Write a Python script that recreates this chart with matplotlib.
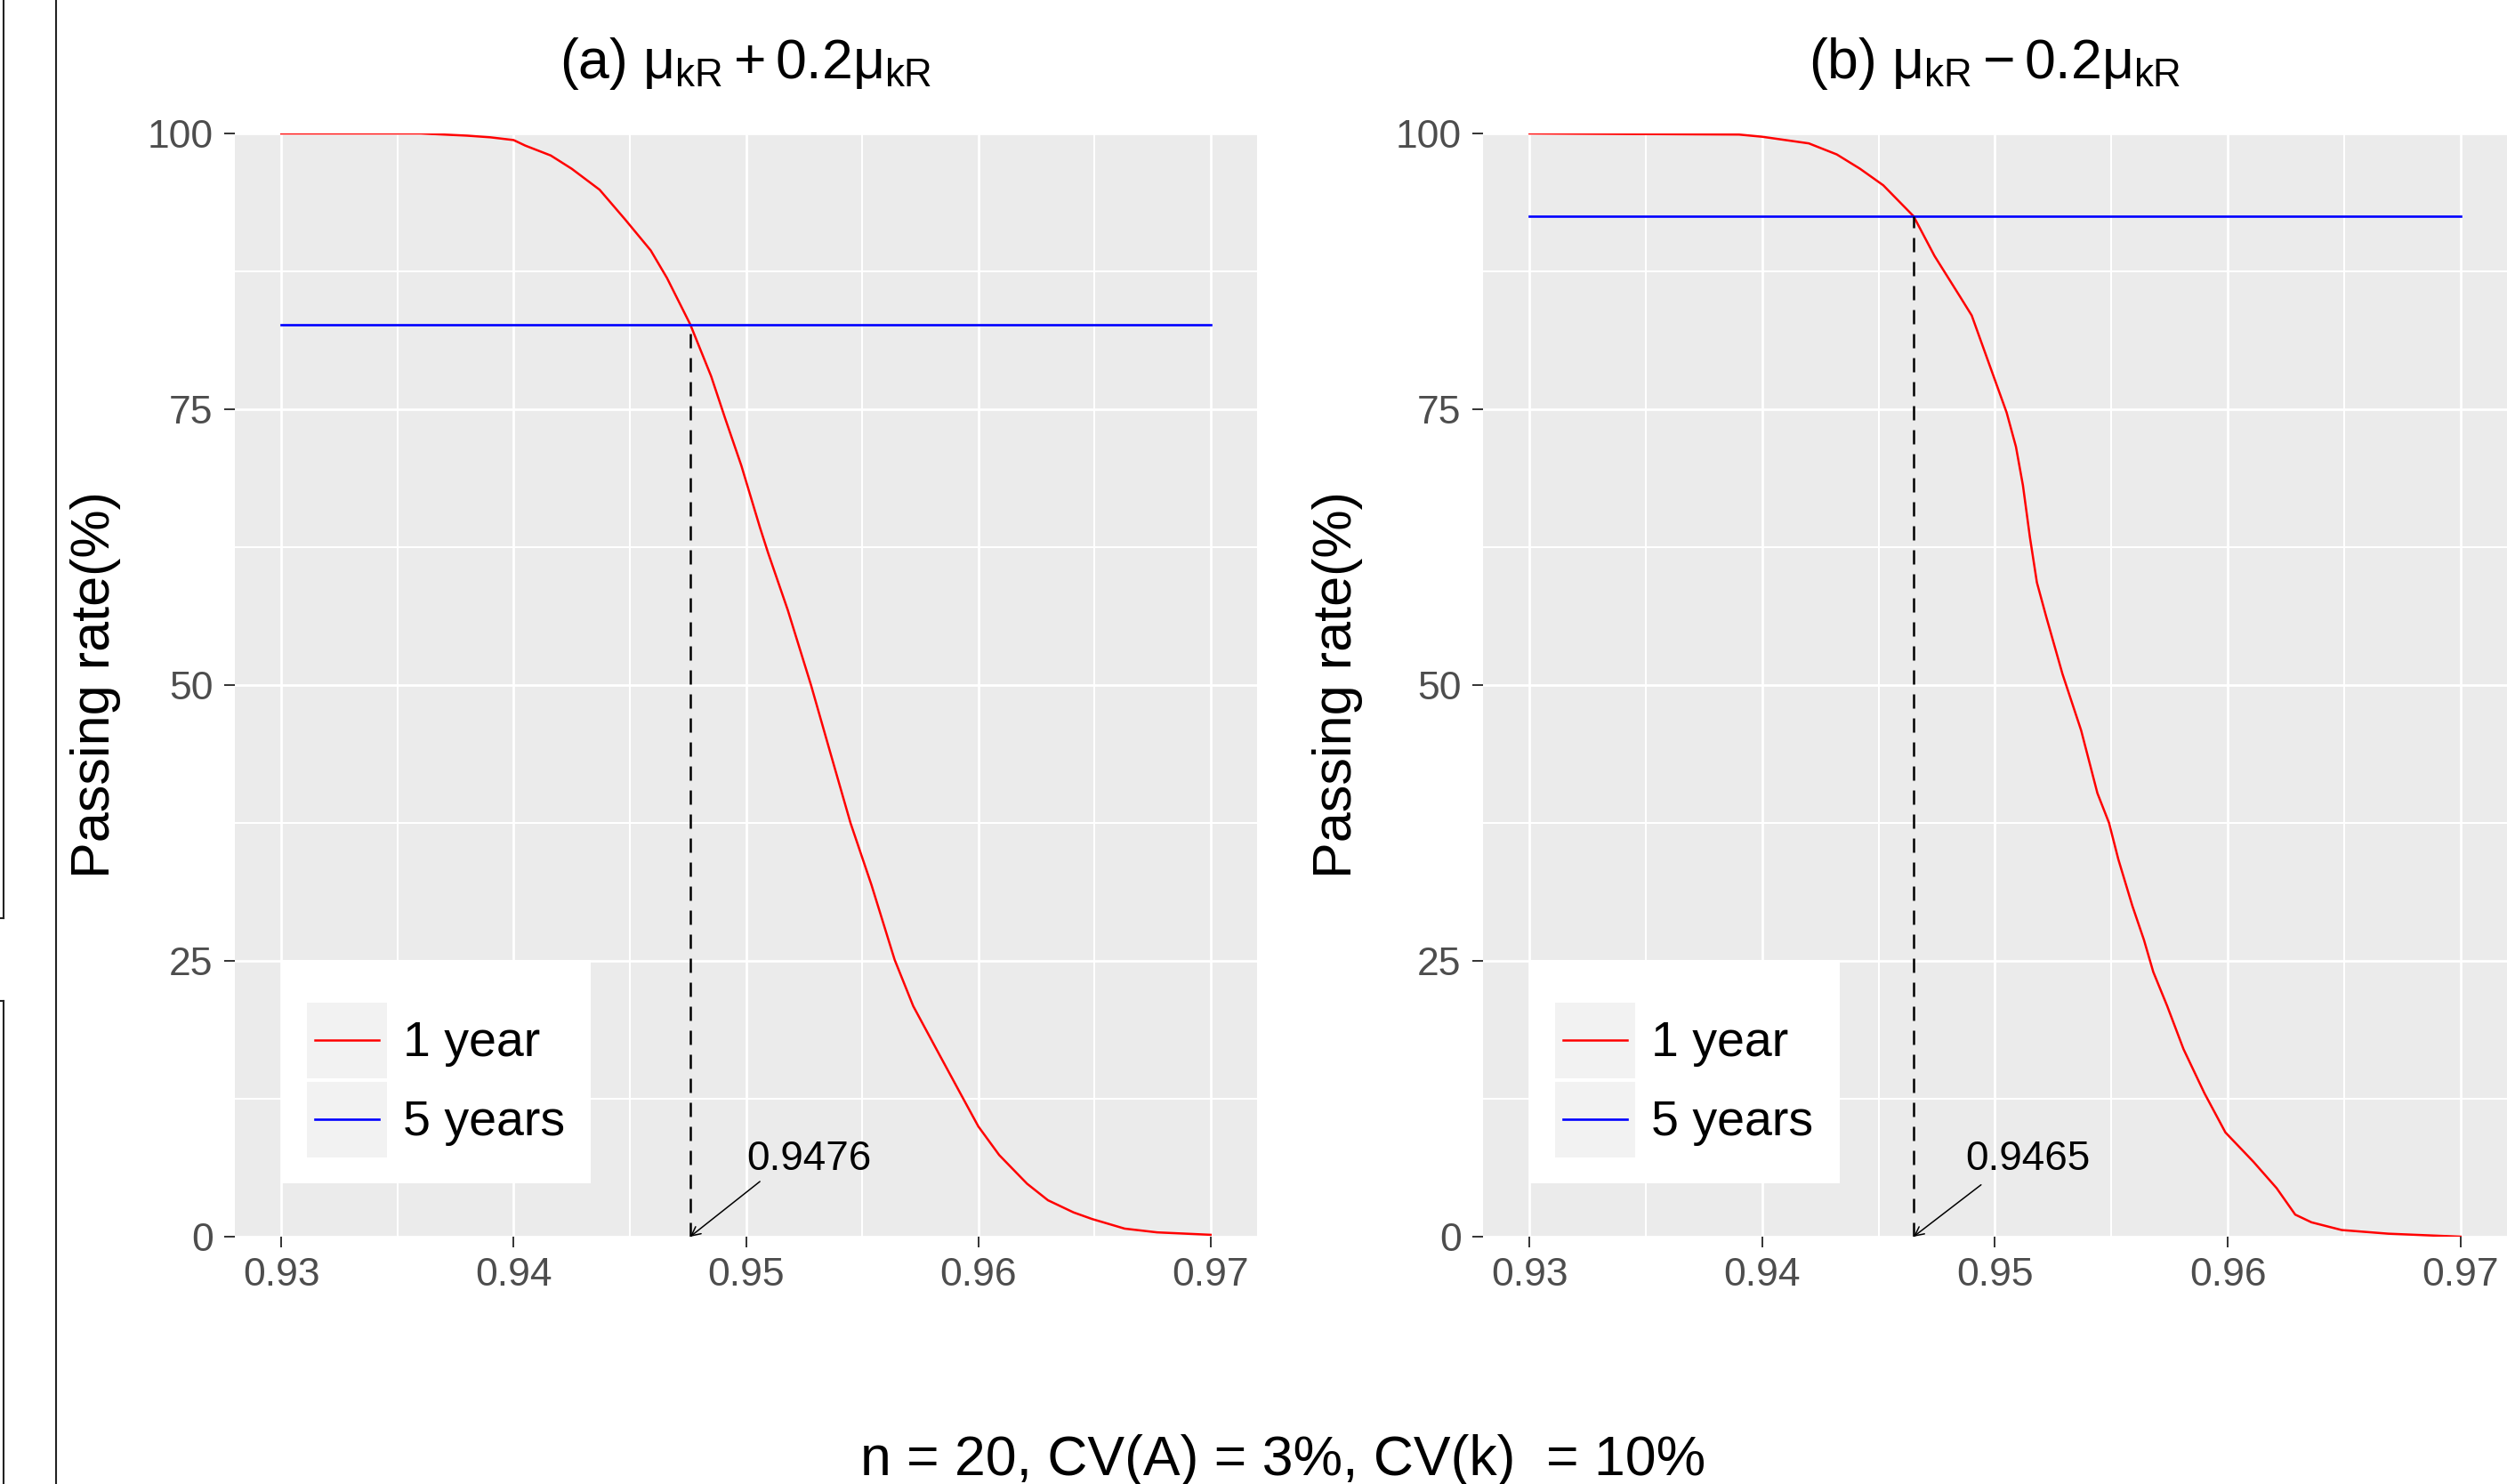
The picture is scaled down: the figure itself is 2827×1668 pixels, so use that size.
import matplotlib
matplotlib.use("Agg")
import matplotlib.pyplot as plt
from matplotlib.legend_handler import HandlerLine2D
from matplotlib.lines import Line2D
from matplotlib.patches import Rectangle
from matplotlib.ticker import MultipleLocator

plt.rcParams["font.family"] = ["Liberation Sans", "DejaVu Sans"]
plt.rcParams["mathtext.fontset"] = "custom"
plt.rcParams["mathtext.rm"] = "Liberation Sans"
plt.rcParams["mathtext.it"] = "Liberation Sans"
plt.rcParams["mathtext.bf"] = "Liberation Sans:bold"

# ---- data ----
TITLES = [r"(a) $\mu_{\mathrm{kR}}+0.2\mu_{\mathrm{kR}}$",
          r"(b) $\mu_{\mathrm{kR}}-0.2\mu_{\mathrm{kR}}$"]
SERIES = ["1 year", "5 years"]

X_A = [0.930, 0.936, 0.938, 0.939, 0.940, 0.9405, 0.9416, 0.9425, 0.9437,
       0.9448, 0.9459, 0.9466, 0.9476, 0.9485, 0.9491, 0.9498, 0.9506,
       0.95095, 0.9518, 0.9528, 0.9536, 0.9545, 0.9554, 0.9564, 0.9572,
       0.9583, 0.9592, 0.9600, 0.9609, 0.9621, 0.9630, 0.9641, 0.9649,
       0.9663, 0.9677, 0.9700]
Y_A = [100, 100, 99.8, 99.65, 99.4, 98.9, 98.0, 96.8, 94.9,
       92.2, 89.4, 86.9, 82.7, 78.0, 74.2, 69.9, 64.3,
       62.0, 56.8, 50.0, 44.1, 37.5, 31.9, 25.1, 20.9,
       16.6, 13.1, 10.0, 7.4, 4.8, 3.3, 2.2, 1.6,
       0.73, 0.39, 0.17]

X_B = [0.930, 0.939, 0.9400, 0.9410, 0.9420, 0.9432, 0.9442, 0.9452,
       0.9465, 0.9474, 0.9485, 0.9490, 0.9498, 0.9505, 0.9509, 0.9512,
       0.9515, 0.9518, 0.9522, 0.9529, 0.9537, 0.9544, 0.9549, 0.9553,
       0.9559, 0.9564, 0.9568, 0.9574, 0.9581, 0.9590, 0.9599, 0.9611,
       0.9621, 0.9629, 0.9636, 0.9649, 0.9669, 0.9700]
Y_B = [100, 99.9, 99.7, 99.4, 99.1, 98.1, 96.8, 95.3,
       92.5, 88.9, 85.2, 83.5, 78.8, 74.7, 71.6, 68.1,
       63.4, 59.3, 56.2, 51.0, 45.9, 40.2, 37.5, 34.2,
       30.0, 26.9, 24.0, 20.9, 17.0, 13.0, 9.45, 6.8,
       4.4, 2.0, 1.3, 0.6, 0.27, 0.0]

FIVE_YEAR_X = [0.93, 0.97]
FIVE_YEAR_Y = [82.7, 92.5]      # 5-year passing rate, panel a / b
CROSS_X = [0.9476, 0.9465]      # crossing point of the two lines
CROSS_LABELS = ["0.9476", "0.9465"]
LABEL_XY = [(0.9527, 7.0), (0.9514, 7.0)]
ARROW_TAIL = [(0.9506, 5.0), (0.9494, 4.7)]

X_TICKS = [0.93, 0.94, 0.95, 0.96, 0.97]
Y_TICKS = [0, 25, 50, 75, 100]
CAPTION = "n = 20, CV(A) = 3%, CV(k)  = 10%"
YLABEL = "Passing rate(%)"

CURVES = [(X_A, Y_A), (X_B, Y_B)]


class KeyHandler(HandlerLine2D):
    """ggplot-style legend key: grey box with a line through it."""
    def create_artists(self, legend, orig_handle, xdescent, ydescent,
                       width, height, fontsize, trans):
        bg = Rectangle((-xdescent, -ydescent), width, height,
                       facecolor="#F2F2F2", edgecolor="none", transform=trans)
        y = -ydescent + height / 2
        ln = Line2D([-xdescent + 0.1 * width, -xdescent + 0.9 * width], [y, y],
                    color=orig_handle.get_color(),
                    lw=orig_handle.get_linewidth(), transform=trans)
        return [bg, ln]


W, H = 2827, 1668
fig = plt.figure(figsize=(W / 100, H / 100), dpi=100)

AX_POS = [(264, 1413), (1667, 2818)]
TOP, BOT = 150, 1390
YLAB_X = [107, 1504]

for i, (left, right) in enumerate(AX_POS):
    ax = fig.add_axes([left / W, (H - BOT) / H, (right - left) / W, (BOT - TOP) / H])
    ax.set_facecolor("#EBEBEB")
    for s in ax.spines.values():
        s.set_visible(False)

    xs, ys = CURVES[i]
    l1, = ax.plot(xs, ys, color="red", lw=1.8, label=SERIES[0], zorder=3)
    l2, = ax.plot(FIVE_YEAR_X, [FIVE_YEAR_Y[i]] * 2, color="blue", lw=1.9,
                  label=SERIES[1], zorder=3)
    ax.plot([CROSS_X[i]] * 2, [0, FIVE_YEAR_Y[i]], color="black", lw=1.8,
            ls=(0, (6.4, 4.4)), zorder=4)

    ax.annotate("", xy=(CROSS_X[i], 0), xytext=ARROW_TAIL[i],
                arrowprops=dict(arrowstyle="->", lw=1.1, color="black",
                                mutation_scale=18, shrinkA=0, shrinkB=0),
                zorder=5, annotation_clip=False)
    ax.text(*LABEL_XY[i], CROSS_LABELS[i], fontsize=33, ha="center",
            va="center", color="black")

    ax.set_xlim(0.928, 0.972)
    ax.set_ylim(0, 100)
    ax.set_xticks(X_TICKS)
    ax.set_xticklabels([f"{t:g}" for t in X_TICKS])
    ax.set_yticks(Y_TICKS)
    ax.xaxis.set_minor_locator(MultipleLocator(0.005))
    ax.yaxis.set_minor_locator(MultipleLocator(12.5))
    ax.grid(which="major", color="white", lw=2.0)
    ax.grid(which="minor", color="white", lw=1.5)
    ax.set_axisbelow(True)
    ax.tick_params(which="minor", length=0)
    ax.tick_params(axis="both", which="major", length=8.5, width=1.4,
                   color="#333333", labelcolor="#4D4D4D", labelsize=32)
    ax.tick_params(axis="x", pad=8)
    ax.tick_params(axis="y", pad=9)

    ax.text(0.5, 1.05, TITLES[i], transform=ax.transAxes, ha="center",
            va="baseline", fontsize=45, color="black")

    ax.legend(handles=[l1, l2], loc="lower left",
              bbox_to_anchor=(0.045, 0.048), borderaxespad=0,
              fontsize=40, frameon=True, fancybox=False,
              facecolor="white", edgecolor="none", framealpha=1,
              handlelength=1.62, handleheight=1.98, labelspacing=0.07,
              handletextpad=0.32, borderpad=0.53,
              title=" ", title_fontsize=12,
              handler_map={Line2D: KeyHandler()})

    fig.text(YLAB_X[i] / W, (H - 770) / H, YLABEL, rotation=90, ha="center",
             va="center", fontsize=44, color="black")

fig.text(1442 / W, 10 / H, CAPTION, ha="center", va="baseline", fontsize=45,
         color="black")

# stray frame lines at the left edge of the cropped original
for seg in [([4, 4], [0, 1032]), ([0, 4], [1032, 1032]),
            ([4, 4], [1125, H]), ([0, 4], [1125, 1125]),
            ([63, 63], [0, H])]:
    fig.add_artist(Line2D([v / W for v in seg[0]], [(H - v) / H for v in seg[1]],
                          color="#222222", lw=1.5, transform=fig.transFigure))

fig.savefig("out.png", dpi=100)
